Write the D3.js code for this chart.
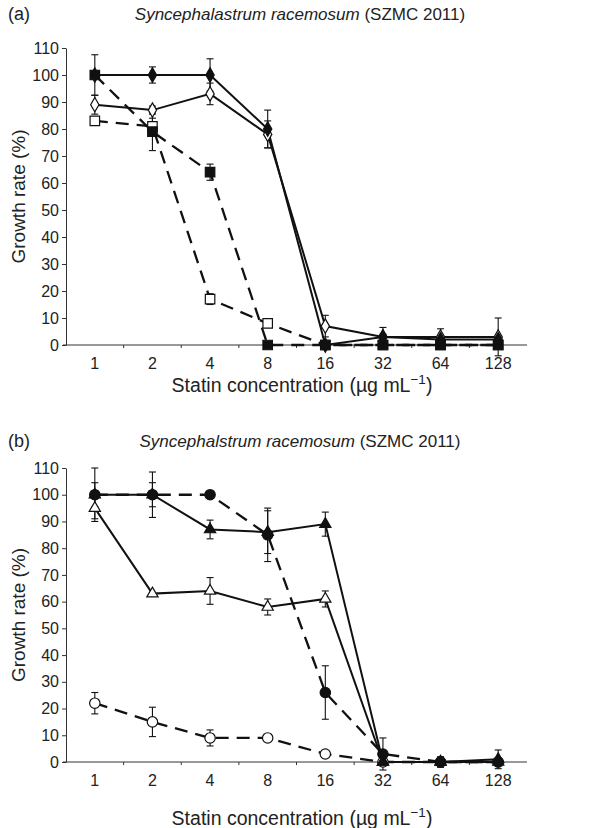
<!DOCTYPE html>
<html>
<head>
<meta charset="utf-8">
<script src="https://cdn.jsdelivr.net/npm/d3@7"></script>
<style>
  body { margin: 0; background: #fff; }
  svg { font-family: "Liberation Sans", Arial, sans-serif; }
</style>
</head>
<body>
<div id="chart"></div>
<script>
// concentrations (ug/mL) shown as equally spaced categories
const concentrations = ["1", "2", "4", "8", "16", "32", "64", "128"];
const yTicks = [0, 10, 20, 30, 40, 50, 60, 70, 80, 90, 100, 110];

// panel (a)
const aFilledDiamond = [100, 100, 100, 80, 0, 3, 2, 2];
const aFilledDiamondErr = [0, 3, 6, 7, 0, 1, 1, 1];
const aOpenDiamond = [89, 87, 93, 78, 7, 3, 3, 3];
const aOpenDiamondErr = [3.5, 1.5, 4, 5, 4, 3.5, 3, 7];
const aFilledSquare = [100, 79, 64, 0, 0, 0, 0, 0];
const aFilledSquareErr = [7.5, 7, 3, 0, 0, 0, 0, 0];
const aOpenSquare = [83, 81, 17, 8, 0, 0, 0, 0];
const aOpenSquareErr = [0, 3, 2, 0, 0, 0, 0, 0];

// panel (b)
const bFilledCircle = [100, 100, 100, 85, 26, 3, 0, 0];
const bFilledCircleErr = [10, 8.5, 0, 10, 10, 6, 0, 0];
const bFilledTriangle = [100, 100, 87, 86, 89, 0, 0, 1];
const bFilledTriangleErr = [4.5, 4.5, 3.5, 8, 4.5, 0, 2, 3.5];
const bOpenTriangle = [95, 63, 64, 58, 61, 0, 0, 0];
const bOpenTriangleErr = [4, 0, 5, 3, 3, 0, 0, 0];
const bOpenCircle = [22, 15, 9, 9, 3, 0, 0, 0];
const bOpenCircleErr = [4, 5.5, 3, 0, 0, 0, 0, 0];

const width = 596, height = 828;
const axisX = 66;

const svg = d3.select("#chart")
    .append("svg")
    .attr("width", width)
    .attr("height", height);

const x = d3.scaleBand()
    .domain(concentrations)
    .range([axisX, 527])
    .padding(0);

const cx = d => x(d) + x.bandwidth() / 2;

function drawPanel(opts) {
    const y = d3.scaleLinear().domain([0, 110]).range([opts.bottom, opts.top]);
    const g = svg.append("g");

    // panel letter + title
    g.append("text")
        .attr("x", 8)
        .attr("y", opts.titleY)
        .attr("font-size", 18)
        .attr("fill", "#222")
        .text(opts.letter);

    const t = g.append("text")
        .attr("x", 300)
        .attr("y", opts.titleY)
        .attr("text-anchor", "middle")
        .attr("font-size", 17)
        .attr("fill", "#222");
    t.append("tspan").attr("font-style", "italic").text(opts.species);
    t.append("tspan").text(" (SZMC 2011)");

    // y axis
    const yAxis = g.append("g")
        .attr("transform", `translate(${axisX},0)`)
        .call(d3.axisLeft(y).tickValues(yTicks).tickSize(4).tickSizeOuter(0).tickPadding(3));
    yAxis.selectAll("text").attr("font-size", 16).attr("fill", "#222").attr("font-family", "Liberation Sans, Arial, sans-serif");
    yAxis.selectAll("line, path").attr("stroke", "#333");

    // x axis: labels centred in bands, ticks on band boundaries
    const xAxis = g.append("g")
        .attr("transform", `translate(0,${opts.bottom})`)
        .call(d3.axisBottom(x).tickSize(0).tickPadding(13));
    xAxis.select("path").remove();
    xAxis.selectAll("text").attr("font-size", 16).attr("fill", "#222").attr("font-family", "Liberation Sans, Arial, sans-serif");

    g.append("line")
        .attr("x1", axisX - 3).attr("x2", 527)
        .attr("y1", opts.bottom).attr("y2", opts.bottom)
        .attr("stroke", "#333");

    g.selectAll(".xtick")
        .data(concentrations.slice(1))
        .enter()
        .append("line")
        .attr("x1", d => x(d)).attr("x2", d => x(d))
        .attr("y1", opts.bottom).attr("y2", opts.bottom + 3)
        .attr("stroke", "#333");

    // axis titles
    g.append("text")
        .attr("transform", `translate(25,${(opts.top + opts.bottom) / 2}) rotate(-90)`)
        .attr("text-anchor", "middle")
        .attr("font-size", 19)
        .attr("fill", "#222")
        .text("Growth rate (%)");

    const xt = g.append("text")
        .attr("x", 302)
        .attr("y", opts.bottom + opts.xTitleGap)
        .attr("text-anchor", "middle")
        .attr("font-size", 19.5)
        .attr("fill", "#222");
    xt.append("tspan").text("Statin concentration (\u00b5g mL");
    xt.append("tspan").attr("dy", -8).attr("font-size", 13.5).text("\u22121");
    xt.append("tspan").attr("dy", 8).text(")");

    const line = d3.line()
        .x((d, i) => cx(concentrations[i]))
        .y(d => y(d));

    // error bars
    opts.series.forEach(s => {
        const eg = g.append("g");
        s.values.forEach((v, i) => {
            const e = s.err[i];
            if (!e) return;
            const px = cx(concentrations[i]);
            eg.append("line")
                .attr("x1", px).attr("x2", px)
                .attr("y1", y(v - e)).attr("y2", y(v + e))
                .attr("stroke", "#111").attr("stroke-width", 1.1);
            [v - e, v + e].forEach(c => {
                eg.append("line")
                    .attr("x1", px - 3.5).attr("x2", px + 3.5)
                    .attr("y1", y(c)).attr("y2", y(c))
                    .attr("stroke", "#111").attr("stroke-width", 1.1);
            });
        });
    });

    // connecting lines
    opts.series.forEach(s => {
        g.append("path")
            .datum(s.values)
            .attr("d", line)
            .attr("fill", "none")
            .attr("stroke", "#111")
            .attr("stroke-width", s.dashed ? 2.3 : 2)
            .attr("stroke-dasharray", s.dashed ? "13,8" : null);
    });

    // markers
    opts.series.forEach(s => {
        g.selectAll(null)
            .data(s.values)
            .enter()
            .append("path")
            .attr("transform", (d, i) => `translate(${cx(concentrations[i])},${y(d)})`)
            .attr("d", d3.symbol().type(s.symbol).size(s.size))
            .attr("fill", s.filled ? "#111" : "#fff")
            .attr("stroke", "#111")
            .attr("stroke-width", 1.2);
    });
}

drawPanel({
    letter: "(a)",
    species: "Syncephalastrum racemosum",
    titleY: 20,
    top: 48,
    bottom: 345,
    xTitleGap: 47,
    series: [
        { values: aOpenSquare, err: aOpenSquareErr, dashed: true, symbol: d3.symbolSquare, size: 90, filled: false },
        { values: aFilledSquare, err: aFilledSquareErr, dashed: true, symbol: d3.symbolSquare, size: 90, filled: true },
        { values: aOpenDiamond, err: aOpenDiamondErr, dashed: false, symbol: d3.symbolDiamond, size: 60, filled: false },
        { values: aFilledDiamond, err: aFilledDiamondErr, dashed: false, symbol: d3.symbolDiamond, size: 60, filled: true }
    ]
});

drawPanel({
    letter: "(b)",
    species: "Syncephalstrum racemosum",
    titleY: 447,
    top: 468,
    bottom: 762,
    xTitleGap: 63,
    series: [
        { values: bOpenCircle, err: bOpenCircleErr, dashed: true, symbol: d3.symbolCircle, size: 85, filled: false },
        { values: bOpenTriangle, err: bOpenTriangleErr, dashed: false, symbol: d3.symbolTriangle, size: 55, filled: false },
        { values: bFilledTriangle, err: bFilledTriangleErr, dashed: false, symbol: d3.symbolTriangle, size: 55, filled: true },
        { values: bFilledCircle, err: bFilledCircleErr, dashed: true, symbol: d3.symbolCircle, size: 85, filled: true }
    ]
});
</script>
</body>
</html>
